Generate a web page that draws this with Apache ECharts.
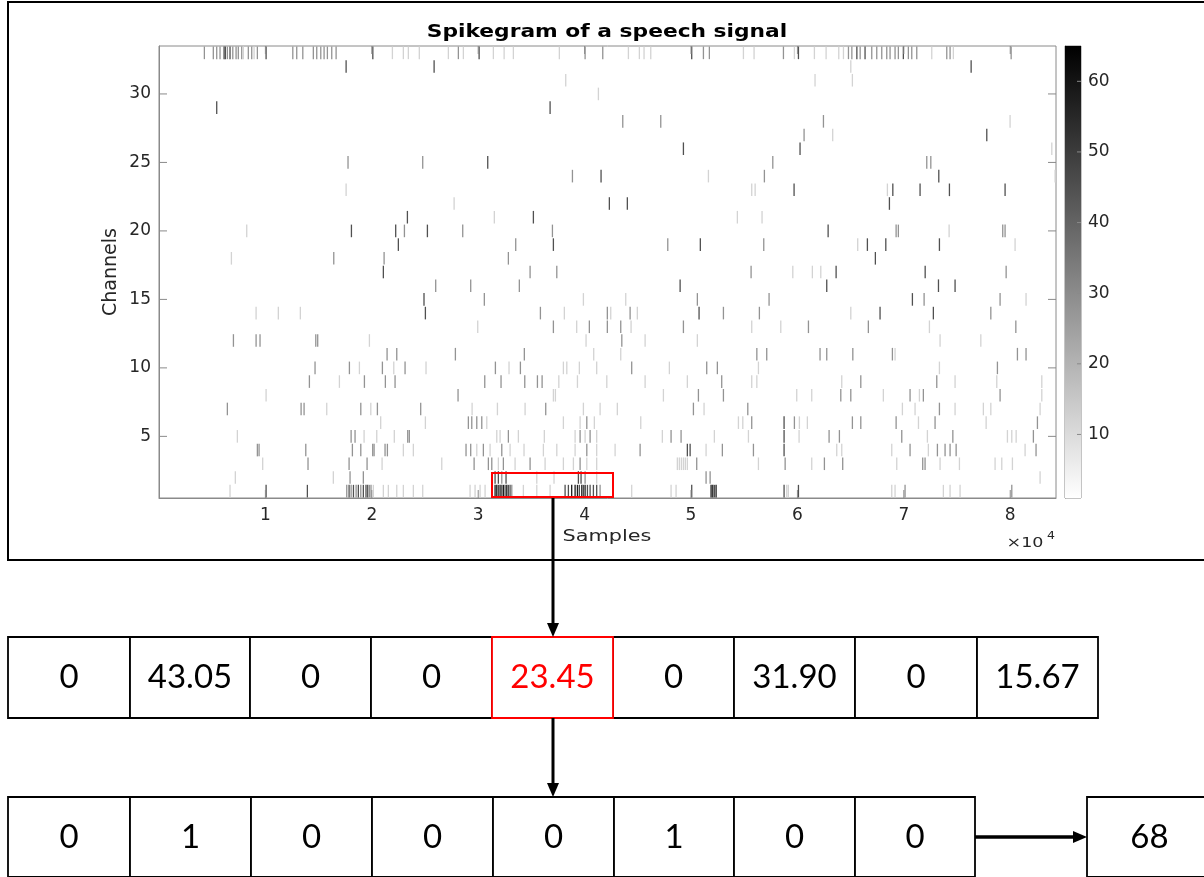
<!DOCTYPE html>
<html><head><meta charset="utf-8">
<script src="https://cdn.jsdelivr.net/npm/echarts@6/dist/echarts.min.js"></script>
<style>html,body{margin:0;padding:0;background:#fff}#c{width:1204px;height:877px}</style>
</head><body><div id="c"></div>
<script>
// spike amplitude levels read from the grey shade
const L = 12, M = 28, D = 45, V = 58;

// channel spike lists: [sample, amplitude]
const ch33 = [[4260,M],[5100,M],[5420,M],[5730,M],[6110,D],[6230,D],[6420,M],[6670,D],[6930,M],[7240,M],[7450,M],[7770,M],[7920,L],[8390,M],[8710,M],[8930,L],[9240,M],[10060,D],[12570,M],[12940,M],[13510,M],[14500,M],[14820,M],[15200,M],[15510,M],[15820,M],[16230,M],[16640,M],[20090,D],[21930,L],[22960,L],[23430,L],[24460,L],[27190,L],[28130,M],[28600,L],[30080,D],[31420,L],[32430,L],[33300,L],[37620,L],[40040,M],[41700,M],[44110,L],[45140,L],[45580,L],[46210,L],[50060,D],[51160,M],[51720,M],[54920,L],[55920,L],[58680,M],[59710,L],[60090,D],[61590,L],[62690,L],[63880,L],[64320,L],[64790,M],[65110,M],[65580,D],[65890,M],[66350,D],[66980,M],[67450,M],[67920,M],[68390,M],[68700,M],[69170,M],[69480,M],[69950,D],[70420,M],[70740,M],[71210,M],[72620,L],[74030,M],[74340,M],[74650,L],[80080,M]];
const ch32 = [[17580,D],[25850,D],[65010,L],[76320,D]];
const ch31 = [[38220,L],[61650,L],[65160,L]];
const ch30 = [[41290,L]];
const ch29 = [[5420,D],[36750,D]];
const ch28 = [[43580,M],[47150,M],[62440,M],[79980,L]];
const ch27 = [[60620,M],[63310,L],[77790,D]];
const ch26 = [[49280,D],[60240,D],[83900,L]];
const ch25 = [[17760,M],[24780,M],[30890,D],[57680,M],[72150,M],[72530,M]];
const ch24 = [[38850,M],[41540,D],[51630,L],[56890,M],[73280,D],[84210,L]];
const ch23 = [[17580,L],[55700,L],[56020,L],[59680,D],[68450,L],[68960,D],[71520,D],[74280,D],[79510,D]];
const ch22 = [[27730,L],[42320,D],[44010,D],[68640,D]];
const ch21 = [[23340,D],[31510,L],[35180,D],[54350,L],[56670,L]];
const ch20 = [[8240,L],[18080,D],[22240,D],[23060,M],[25220,D],[28540,M],[36970,M],[62880,D],[69270,M],[69480,M],[74250,L],[79290,M],[79510,M]];
const ch19 = [[22490,D],[33520,M],[37060,D],[47810,M],[50870,D],[56830,M],[65660,L],[66570,D],[68300,D],[73340,D],[80450,L]];
const ch18 = [[6800,L],[16420,M],[21150,M],[32830,M],[67320,D]];
const ch17 = [[21080,D],[34870,M],[37380,M],[55640,M],[59560,L],[61400,L],[62190,L],[63630,D],[72000,D],[79610,M]];
const ch16 = [[26000,M],[29290,M],[33860,M],[48970,D],[62750,D],[73250,D],[74810,D]];
const ch15 = [[24900,D],[30570,M],[39880,L],[43860,L],[50590,M],[57330,M],[70800,D],[71900,M],[79040,M],[81480,L]];
const ch14 = [[9120,L],[11210,L],[13280,L],[25030,D],[35840,M],[38090,L],[42130,M],[42450,L],[44270,M],[44950,L],[50750,D],[53040,M],[56420,M],[65010,L],[67760,D],[72770,D],[78170,M]];
const ch13 = [[29950,L],[37060,M],[39250,L],[40440,M],[42130,M],[43390,M],[44360,L],[49280,M],[55700,L],[58430,L],[61030,M],[66660,M],[72400,L],[80520,M]];
const ch12 = [[6990,M],[9120,M],[9490,M],[14730,M],[14910,M],[19770,L],[40130,L],[43490,M],[45680,L],[50590,L],[73400,L],[77230,L]];
const ch11 = [[21430,M],[22340,M],[27850,M],[34330,M],[40850,L],[43390,L],[56180,M],[57110,M],[62120,M],[62750,M],[65200,M],[68920,M],[69170,L],[80670,M],[81480,M]];
const ch10 = [[14660,M],[17890,M],[18830,L],[20990,M],[22060,L],[23120,M],[25090,L],[31610,M],[32890,L],[33960,M],[38000,L],[38320,L],[39500,L],[41130,L],[44420,M],[47960,L],[51470,M],[52470,M],[56330,L],[73340,L],[78790,M]];
const ch09 = [[14130,M],[16950,L],[19300,M],[21270,M],[22180,M],[30610,M],[32140,M],[34370,M],[35560,M],[36000,M],[37570,L],[39320,L],[42080,L],[45680,L],[49650,L],[52880,M],[55700,L],[56180,L],[64160,L],[65950,M],[73090,M],[74810,L],[78730,L],[82960,L]];
const ch08 = [[10060,L],[28100,M],[37060,L],[37250,L],[47400,L],[50690,M],[53040,M],[59930,L],[61340,L],[64070,M],[65010,M],[68070,L],[70580,M],[71460,L],[71830,M],[79040,M],[82960,L]];
const ch07 = [[6420,M],[13350,M],[13630,M],[15760,L],[18960,M],[19900,L],[20520,M],[24590,M],[29420,L],[31800,L],[34400,L],[36340,M],[39880,L],[41450,L],[43070,L],[50220,M],[51220,L],[55330,M],[69860,L],[71050,L],[73340,M],[74810,L],[77470,L],[78170,L],[82800,L]];
const ch06 = [[20830,L],[25030,L],[29070,M],[29390,M],[29860,M],[30330,M],[30800,L],[38000,L],[39570,L],[40200,M],[40910,L],[45270,L],[54450,L],[54860,L],[55700,M],[58740,D],[59710,M],[60180,L],[60930,L],[65160,M],[65950,M],[69270,M],[71370,L],[72930,M],[77730,L],[82550,M]];
const ch05 = [[7360,L],[18050,M],[18420,M],[19270,L],[20460,L],[22110,L],[23370,M],[23520,M],[31740,L],[32050,L],[32830,M],[33770,L],[36210,L],[39100,L],[39570,M],[40040,L],[40510,M],[41130,L],[47300,L],[48120,M],[49060,M],[52190,L],[55390,L],[58740,D],[60150,L],[62970,M],[63940,M],[69800,M],[72210,L],[74600,M],[79730,L],[80140,L],[80550,L],[82170,M]];
const ch04 = [[9240,M],[9400,M],[13790,M],[18170,M],[18960,M],[20080,M],[20210,M],[21240,M],[21460,M],[22960,L],[23900,L],[28850,M],[29290,M],[29860,L],[30480,M],[31110,L],[32210,M],[32990,L],[34300,L],[36120,L],[37380,L],[39100,L],[40200,M],[41130,L],[42860,L],[45210,M],[49650,D],[49910,D],[51410,L],[52940,M],[55860,M],[58740,D],[63690,L],[64160,L],[68860,L],[70580,M],[72300,L],[73150,M],[73870,M],[74340,M],[74910,M],[81390,L],[82420,M]];
const ch03 = [[9740,L],[14000,M],[17860,M],[19550,M],[20960,L],[26570,L],[29610,M],[30950,M],[31270,M],[31890,L],[32360,M],[33460,L],[34870,M],[36280,L],[38000,L],[38940,L],[39570,M],[40200,L],[41130,L],[48710,L],[48900,L],[49090,L],[49280,L],[49460,L],[49650,L],[50530,M],[56330,L],[58840,M],[61340,L],[62530,M],[64250,M],[69330,L],[71770,M],[71990,M],[73400,L],[75220,L],[78570,L],[79200,L],[80200,L]];
const ch02 = [[7170,L],[16380,L],[17950,M],[19200,M],[31580,D],[31890,D],[32210,M],[32610,D],[35500,L],[37120,L],[39410,D],[39660,D],[40040,M],[41130,L],[51410,M],[51790,M],[82800,L]];
const ch01 = [[6670,L],[10060,D],[13940,D],[17640,M],[17860,D],[18050,M],[18270,D],[18520,M],[18730,D],[18960,M],[19200,D],[19450,D],[19610,D],[19770,M],[19920,M],[20140,L],[21080,L],[21550,L],[22340,L],[22960,L],[23900,L],[24780,L],[29230,L],[29700,L],[30170,L],[30640,L],[31580,V],[31740,V],[31890,D],[32050,V],[32210,D],[32360,V],[32520,D],[32680,V],[32830,D],[32990,D],[33150,M],[34240,L],[35500,L],[36750,L],[38160,D],[38470,D],[38780,V],[39100,V],[39320,V],[39500,D],[39730,V],[39880,D],[40040,V],[40260,D],[40510,D],[40820,D],[41130,D],[41450,M],[44420,L],[48120,L],[48590,L],[50060,D],[51880,V],[52040,V],[52190,D],[52350,V],[58740,D],[58990,L],[59140,L],[60090,D],[68860,L],[69170,L],[70110,M],[73710,L],[74340,L],[75280,L],[80140,M]];

const channelLists = [ch01,ch02,ch03,ch04,ch05,ch06,ch07,ch08,ch09,ch10,ch11,ch12,ch13,ch14,ch15,ch16,ch17,ch18,ch19,ch20,ch21,ch22,ch23,ch24,ch25,ch26,ch27,ch28,ch29,ch30,ch31,ch32,ch33];

const xRange = [0, 84300];
const yRange = [0.5, 33.5];
const xTicks = [10000,20000,30000,40000,50000,60000,70000,80000];
const yTicks = [5,10,15,20,25,30];
const cbTicks = [10,20,30,40,50,60];
const cbRange = [1, 65];

const row1Values = ['0','43.05','0','0','23.45','0','31.90','0','15.67'];
const row2Values = ['0','1','0','0','0','1','0','0'];
const outputValue = '68';
const highlightIndex = 4;

// build series data
const spikes = [];
channelLists.forEach((list, i) => list.forEach(s => spikes.push([s[0], i + 1, s[1]])));

const axisGray = '#8a8a8a';
const labelColor = '#262626';
const FONT = 'DejaVu Sans';
const TICK = 8;

// ---- table graphics ----
const graphics = [];
const row1X = [8,130,250,371,492,613,734,855,977,1098];
const row2X = [8,130,251,372,493,614,734,855,975];
const r1y = 637, r1h = 81, r2y = 797, r2h = 80;
function cell(x0, x1, y, h, txt, color, z) {
  graphics.push({type:'rect', shape:{x:x0, y:y, width:x1-x0, height:h}, style:{fill:'#fff', stroke:color, lineWidth:1.8}, z:z||10});
  graphics.push({type:'text', x:(x0+x1)/2, y:y+h/2, z:12, style:{text:txt, fill:color, font:'33px Lato', align:'center', verticalAlign:'middle'}});
}
row1Values.forEach((v,i) => { if (i !== highlightIndex) cell(row1X[i], row1X[i+1], r1y, r1h, v, '#000'); });
cell(row1X[highlightIndex], row1X[highlightIndex+1], r1y, r1h, row1Values[highlightIndex], '#ff0000', 11);
row2Values.forEach((v,i) => cell(row2X[i], row2X[i+1], r2y, r2h, v, '#000'));
cell(1087, 1212, r2y, r2h, outputValue, '#000');

function vArrow(x, y0, y1) {
  graphics.push({type:'line', shape:{x1:x, y1:y0, x2:x, y2:y1-12}, style:{stroke:'#000', lineWidth:3}, z:20});
  graphics.push({type:'polygon', shape:{points:[[x-6,y1-14],[x+6,y1-14],[x,y1]]}, style:{fill:'#000'}, z:20});
}
function hArrow(x0, x1, y) {
  graphics.push({type:'line', shape:{x1:x0, y1:y, x2:x1-12, y2:y}, style:{stroke:'#000', lineWidth:3.5}, z:20});
  graphics.push({type:'polygon', shape:{points:[[x1-14,y-6],[x1-14,y+6],[x1,y]]}, style:{fill:'#000'}, z:20});
}
vArrow(553, 497, 637);
vArrow(553, 718, 797);
hArrow(975, 1087, 837);

// figure frame
graphics.push({type:'rect', shape:{x:8, y:2, width:1204, height:558}, style:{fill:'none', stroke:'#000', lineWidth:2}, z:1});
// red selection box in spikegram
graphics.push({type:'rect', shape:{x:492, y:473, width:121, height:24}, style:{fill:'none', stroke:'#ff0000', lineWidth:2}, z:30});
// titles / axis names
graphics.push({type:'text', x:607, y:33, scaleX:1.28, z:30, style:{text:'Spikegram of a speech signal', font:'bold 17px "DejaVu Sans"', fill:'#000', align:'center', verticalAlign:'middle'}});
graphics.push({type:'text', x:607, y:537, scaleX:1.3, z:30, style:{text:'Samples', font:'16px "DejaVu Sans"', fill:labelColor, align:'center', verticalAlign:'middle'}});
graphics.push({type:'text', x:111, y:272, rotation:Math.PI/2, z:30, style:{text:'Channels', font:'19px "DejaVu Sans"', fill:labelColor, align:'center', verticalAlign:'middle'}});
graphics.push({type:'text', x:1025, y:543, scaleX:1.25, z:30, style:{text:'×10', font:'14px "DejaVu Sans"', fill:labelColor, align:'center', verticalAlign:'middle'}});
graphics.push({type:'text', x:1051, y:536, scaleX:1.25, z:30, style:{text:'4', font:'10px "DejaVu Sans"', fill:labelColor, align:'center', verticalAlign:'middle'}});

const chart = echarts.init(document.getElementById('c'), null, {renderer:'canvas'});
const axisCommon = {
  axisLine:{show:true, lineStyle:{color:axisGray, width:1}},
  axisTick:{show:false},
  splitLine:{show:false},
};
const tickStyle = {stroke:axisGray, lineWidth:1};
chart.setOption({
  backgroundColor:'#fff',
  animation:false,
  grid:[
    {left:159, top:46, width:897, height:452, show:true, borderColor:axisGray, borderWidth:1, backgroundColor:'#fff'},
    {left:1065, top:46, width:16, height:452, show:true, borderColor:axisGray, borderWidth:1}
  ],
  xAxis:[
    Object.assign({type:'value', gridIndex:0, min:xRange[0], max:xRange[1], position:'bottom',
      axisLabel:{show:true, color:labelColor, fontFamily:FONT, fontSize:17, margin:9, customValues:xTicks, formatter:v=>String(v/10000)}}, axisCommon),
    {type:'value', gridIndex:1, min:0, max:1, show:false}
  ],
  yAxis:[
    Object.assign({type:'value', gridIndex:0, min:yRange[0], max:yRange[1], position:'left',
      axisLabel:{show:true, color:labelColor, fontFamily:FONT, fontSize:17, margin:8, customValues:yTicks}}, axisCommon),
    Object.assign({type:'value', gridIndex:1, min:cbRange[0], max:cbRange[1], position:'right',
      axisLabel:{show:true, color:labelColor, fontFamily:FONT, fontSize:17, margin:7, customValues:cbTicks}}, axisCommon)
  ],
  visualMap:{type:'continuous', show:false, seriesIndex:0, dimension:2, min:cbRange[0], max:cbRange[1], inRange:{color:['#ffffff','#000000']}},
  series:[
    {type:'custom', name:'spikes', xAxisIndex:0, yAxisIndex:0, clip:true, data:spikes,
      encode:{x:0, y:1},
      renderItem:(params, api) => {
        const p = api.coord([api.value(0), api.value(1)]);
        const h = api.size([0, 1])[1] * 0.92;
        return {type:'rect', shape:{x:p[0]-0.6, y:p[1]-h/2, width:1.3, height:h}, style:{fill:api.visual('color')}};
      }},
    {type:'custom', name:'colorbar', xAxisIndex:1, yAxisIndex:1, data:[[0, cbRange[0], 1, cbRange[1]]],
      renderItem:(params, api) => {
        const a = api.coord([api.value(0), api.value(1)]);
        const b = api.coord([api.value(2), api.value(3)]);
        return {type:'rect', shape:{x:a[0], y:b[1], width:b[0]-a[0], height:a[1]-b[1]},
          style:{fill:new echarts.graphic.LinearGradient(0,0,0,1,[{offset:0,color:'#000'},{offset:1,color:'#fff'}])}};
      }},
    // inward ticks on all four sides of the spikegram box (MATLAB "box on")
    {type:'custom', name:'xticks', xAxisIndex:0, yAxisIndex:0, clip:false, silent:true, z:5,
      data:xTicks.map(v => [v, yRange[0], yRange[1]]),
      renderItem:(params, api) => {
        const b = api.coord([api.value(0), api.value(1)]);
        const t = api.coord([api.value(0), api.value(2)]);
        return {type:'group', children:[
          {type:'line', shape:{x1:b[0], y1:b[1], x2:b[0], y2:b[1]-TICK}, style:tickStyle},
          {type:'line', shape:{x1:t[0], y1:t[1], x2:t[0], y2:t[1]+TICK}, style:tickStyle}]};
      }},
    {type:'custom', name:'yticks', xAxisIndex:0, yAxisIndex:0, clip:false, silent:true, z:5,
      data:yTicks.map(v => [xRange[0], xRange[1], v]),
      renderItem:(params, api) => {
        const l = api.coord([api.value(0), api.value(2)]);
        const r = api.coord([api.value(1), api.value(2)]);
        return {type:'group', children:[
          {type:'line', shape:{x1:l[0], y1:l[1], x2:l[0]+TICK, y2:l[1]}, style:tickStyle},
          {type:'line', shape:{x1:r[0], y1:r[1], x2:r[0]-TICK, y2:r[1]}, style:tickStyle}]};
      }},
    {type:'custom', name:'cbticks', xAxisIndex:1, yAxisIndex:1, clip:false, silent:true, z:5,
      data:cbTicks.map(v => [1, v]),
      renderItem:(params, api) => {
        const r = api.coord([api.value(0), api.value(1)]);
        return {type:'line', shape:{x1:r[0], y1:r[1], x2:r[0]-4, y2:r[1]}, style:tickStyle};
      }}
  ],
  graphic:graphics
});
</script></body></html>
